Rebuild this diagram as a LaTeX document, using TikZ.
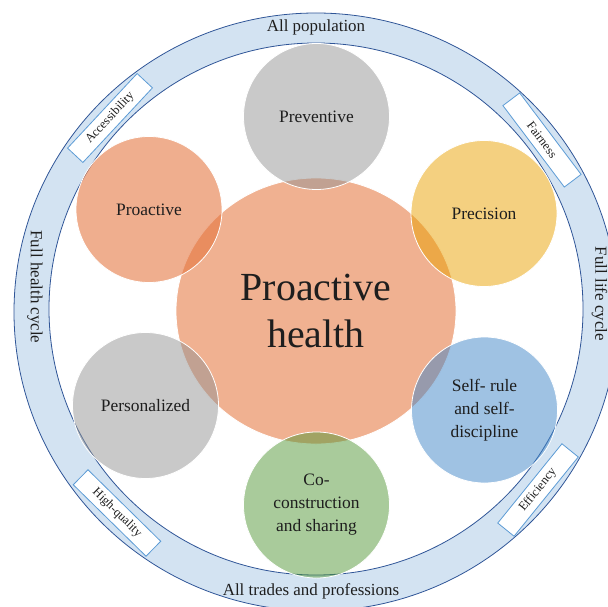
\documentclass[tikz,border=0pt]{standalone}
\usepackage{fontspec}
\setmainfont{Liberation Serif}
\usetikzlibrary{shapes.geometric}
\definecolor{ringfill}{RGB}{211,227,242}
\definecolor{ringline}{RGB}{47,85,151}
\definecolor{boxline}{RGB}{91,155,213}
\definecolor{csalmonfull}{RGB}{240,177,145}
\definecolor{csalmon}{RGB}{228,115,60}
\definecolor{cgray}{RGB}{147,147,147}
\definecolor{cyellow}{RGB}{233,161,1}
\definecolor{cblue}{RGB}{63,133,199}
\definecolor{cgreen}{RGB}{83,151,55}
\definecolor{txt}{RGB}{30,30,30}
\begin{document}
\begin{tikzpicture}[x=1bp,y=-1bp,
  petal/.style={circle, minimum size=146bp, inner sep=0pt, fill opacity=0.5,
    text opacity=1, draw=white, line width=0.8pt, text=txt, align=center,
    font=\fontsize{17.5}{23}\selectfont},
  tagbox/.style={draw=boxline, fill=white, line width=0.8pt, minimum width=102bp,
    minimum height=21bp, inner sep=0pt, text=txt, font=\fontsize{12.5}{14}\selectfont},
  ringtext/.style={text=txt, font=\fontsize{17}{20}\selectfont, inner sep=0pt}]
\useasboundingbox (0,0) rectangle (608,607);
\clip (0,0) rectangle (608,607);
% ring
\fill[ringfill, even odd rule] (316,312) ellipse [x radius=302, y radius=299]
  (316,309) ellipse [x radius=267, y radius=266];
\draw[ringline, line width=0.8pt] (316,312) ellipse [x radius=302, y radius=299];
\draw[ringline, line width=0.8pt] (316,309) ellipse [x radius=267, y radius=266];
% central
\node[ellipse, minimum width=280bp, minimum height=266bp, inner sep=0pt,
  fill=csalmonfull, draw=white, line width=0.8pt, text=txt, align=center,
  font=\fontsize{40}{48}\selectfont] (core) at (316,311) {Proactive\\health};
% petals
\node[petal, fill=cgray] (prev) at (316.5,116.5) {Preventive};
\node[petal, fill=csalmon, fill opacity=0.58] (proa) at (149,209.5) {Proactive};
\node[petal, fill=cyellow] (prec) at (484,213.5) {Precision};
\node[petal, fill=cgray] (pers) at (145.5,405.5) {Personalized};
\node[petal, fill=cblue] (self) at (484.5,410) {Self- rule\\and self-\\discipline};
\node[petal, fill=cgreen] (coco) at (316.5,505) {Co-\\construction\\and sharing};
% ring texts
\node[ringtext] (allpop) at (316,27) {All population};
\node[ringtext] (alltrades) at (311,591) {All trades and professions};
\node[ringtext, rotate=-90] (fhc) at (35,287) {Full health cycle};
\node[ringtext, rotate=-90] (flc) at (599.5,294) {Full life cycle};
% tags
\node[tagbox, rotate=47] (acc) at (110,118) {Accessibility};
\node[tagbox, rotate=-53] (fair) at (542,140) {Fairness};
\node[tagbox, rotate=-44.5] (hq) at (117,513) {High-quality};
\node[tagbox, rotate=51] (eff) at (538,490) {Efficiency};
\end{tikzpicture}
\end{document}
